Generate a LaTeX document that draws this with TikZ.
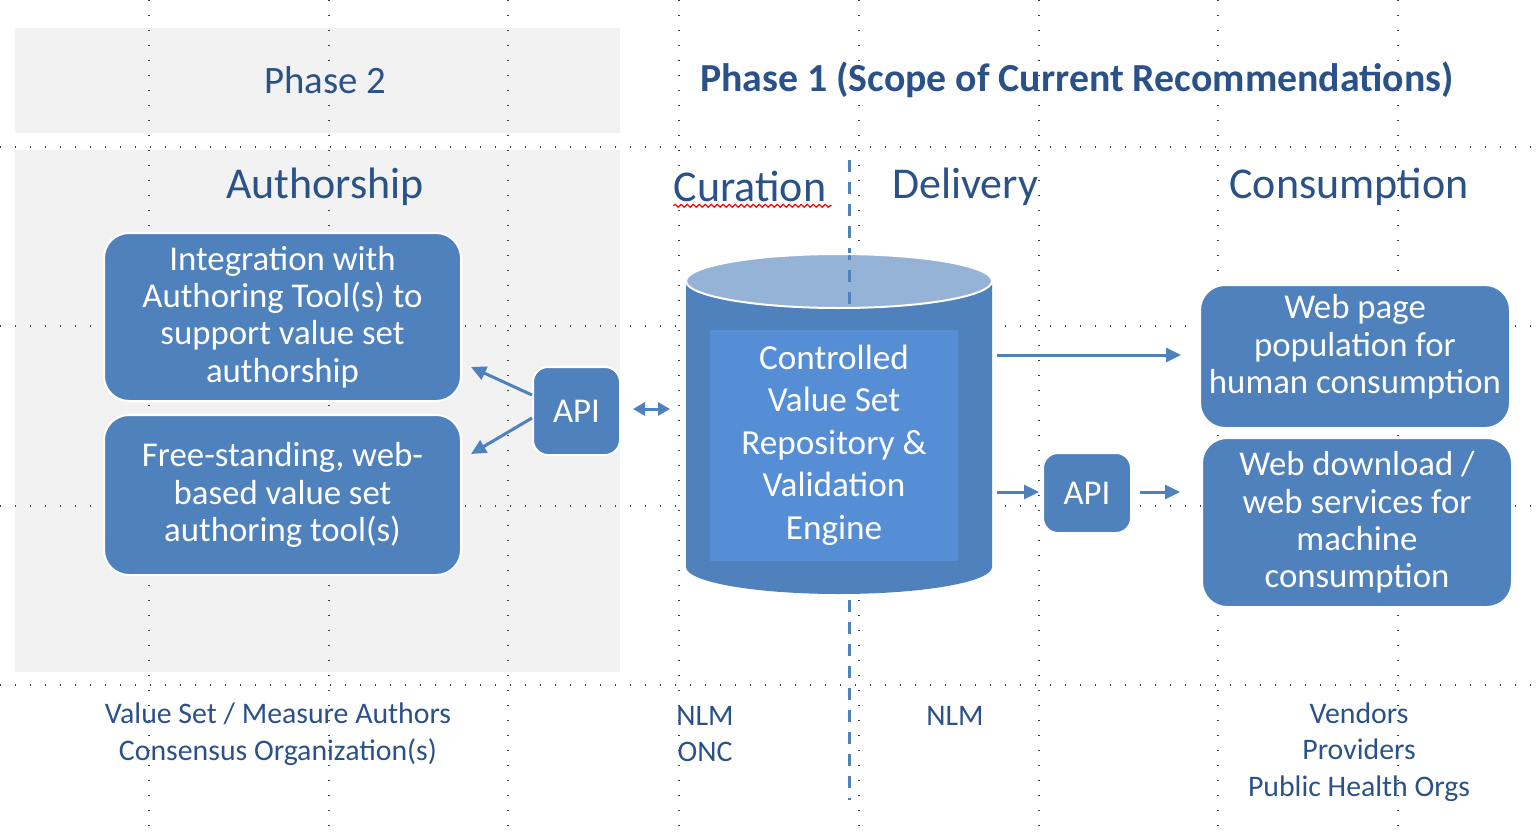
\documentclass[tikz,border=0pt]{standalone}
\usepackage{fontspec}
\setmainfont{Carlito}
\usetikzlibrary{arrows.meta,calc,decorations.pathmorphing}
\definecolor{boxblue}{RGB}{79,129,189}
\definecolor{innerblue}{RGB}{85,142,213}
\definecolor{topblue}{RGB}{149,179,215}
\definecolor{headblue}{RGB}{42,82,136}
\definecolor{bggrey}{RGB}{242,242,242}

\begin{document}
\begin{tikzpicture}[x=0.5pt,y=0.5pt]
\tikzstyle{box}=[draw=white,line width=1pt,fill=boxblue,rounded corners=12.5pt,text=white,align=center,inner sep=0pt,font=\fontsize{17.4}{18.7}\selectfont]
\tikzstyle{apibox}=[box,rounded corners=7.5pt]
\tikzstyle{head}=[text=headblue,inner sep=0pt,font=\fontsize{22}{26}\selectfont]
\tikzstyle{phase}=[text=headblue,inner sep=0pt,font=\fontsize{19.4}{23}\selectfont]
\tikzstyle{who}=[text=headblue,align=center,inner sep=0pt,font=\fontsize{14.9}{18.25}\selectfont]
\tikzstyle{grid}=[black!75,line width=0.6pt,dash pattern=on 0.6pt off 6.9pt]
\tikzstyle{split}=[boxblue,line width=1.5pt,dash pattern=on 6pt off 5pt]
\tikzstyle{arr}=[boxblue,line width=1.5pt,-{Triangle[length=7.5pt,width=7pt]}]
\useasboundingbox (0,0) rectangle (1540,-834);
% grey phase 2 area
\fill[bggrey] (15,-28) rectangle (620,-133);
\fill[bggrey] (15,-150) rectangle (620,-672);
% dotted grid
\foreach \x in {149,329,508,679,859,1039,1218,1398}
  \draw[grid] (\x,0) -- (\x,-834);
\foreach \y in {147,326,506,685}
  \draw[grid] (0,-\y) -- (1540,-\y);
% titles
\path (325,-80) node[phase](ph2){Phase 2}
      (1077,-80) node[phase,font=\fontsize{19.9}{23}\selectfont\bfseries](ph1){Phase 1 (Scope of Current Recommendations)};
\path (325,-187) node[head](auth){Authorship}
      (750,-186) node[head](cur){Curation}
      (965,-187) node[head](del){Delivery}
      (1349,-187) node[head](cons){Consumption};
\draw[red,line width=0.6pt,decorate,decoration={snake,amplitude=0.7pt,segment length=3pt}] ($(cur.south west)+(0,-4)$) -- ($(cur.south east)+(5,-4)$);
% cylinder
\coordinate (divtop) at (849,-160);
\coordinate (divbot) at (849,-800);
\fill[topblue] (839,-281) ellipse [x radius=76.5pt,y radius=13.5pt];
\draw[split] (divtop) -- (divbot);
\fill[boxblue] (686,-281) arc[start angle=180,end angle=360,x radius=76.5pt,y radius=13.5pt]
  -- (992,-567) arc[start angle=0,end angle=-180,x radius=76.5pt,y radius=13.5pt] -- cycle;
\draw[white,line width=1pt] (839,-281) ellipse [x radius=76.5pt,y radius=13.5pt];
\path (834,-445) node[fill=innerblue,text=white,align=center,inner sep=0pt,minimum width=124pt,minimum height=115.5pt,font=\fontsize{17.6}{21.25}\selectfont](repo){Controlled\\Value Set\\Repository \&\\Validation\\Engine};
\coordinate (cylW) at (686,-409);
\coordinate (cylE1) at (992,-355);
\coordinate (cylE2) at (992,-492);
% boxes
\path (282.5,-317) node[box,minimum width=178.5pt,minimum height=84pt](author1){Integration with\\Authoring Tool(s) to\\support value set\\authorship}
      (282.5,-495) node[box,minimum width=178.5pt,minimum height=80pt](author2){Free-standing, web-\\based value set\\authoring tool(s)}
      (576.5,-411) node[apibox,minimum width=43.5pt,minimum height=44pt](api1){API}
      (1087,-493) node[apibox,minimum width=44pt,minimum height=40pt](api2){API}
      (1355,-356.5) node[box,minimum width=155pt,minimum height=71.5pt,text depth=12.5pt](web1){Web page\\population for\\human consumption}
      (1357,-522.5) node[box,minimum width=155pt,minimum height=84.5pt](web2){Web download /\\web services for\\machine\\consumption};
% arrows
\draw[arr] ($(api1.west)+(0,16)$) -- ($(author1.east)+(9,-50)$);
\draw[arr] ($(api1.west)+(0,-7)$) -- ($(author2.east)+(9,41)$);
\draw[arr,{Triangle[length=6pt,width=6.5pt]}-{Triangle[length=6pt,width=6.5pt]}] ($(api1.east)+(12,2)$) -- ($(cylW)+(-16,0)$);
\draw[arr] ($(cylE1)+(5,0)$) -- ($(web1.west)+(-18,1.5)$);
\draw[arr] ($(cylE2)+(5,0)$) -- ($(api2.west)+(-3,1)$);
\draw[arr] ($(api2.east)+(8,1)$) -- ($(web2.west)+(-21,30.5)$);
% who
\path (278,-734) node[who](org1){Value Set / Measure Authors\\Consensus Organization(s)}
      (705,-734) node[who](org2){NLM\\ONC}
      (955,-716) node[who](org3){NLM}
      (1359,-752) node[who](org4){Vendors\\Providers\\Public Health Orgs};
\end{tikzpicture}
\end{document}
